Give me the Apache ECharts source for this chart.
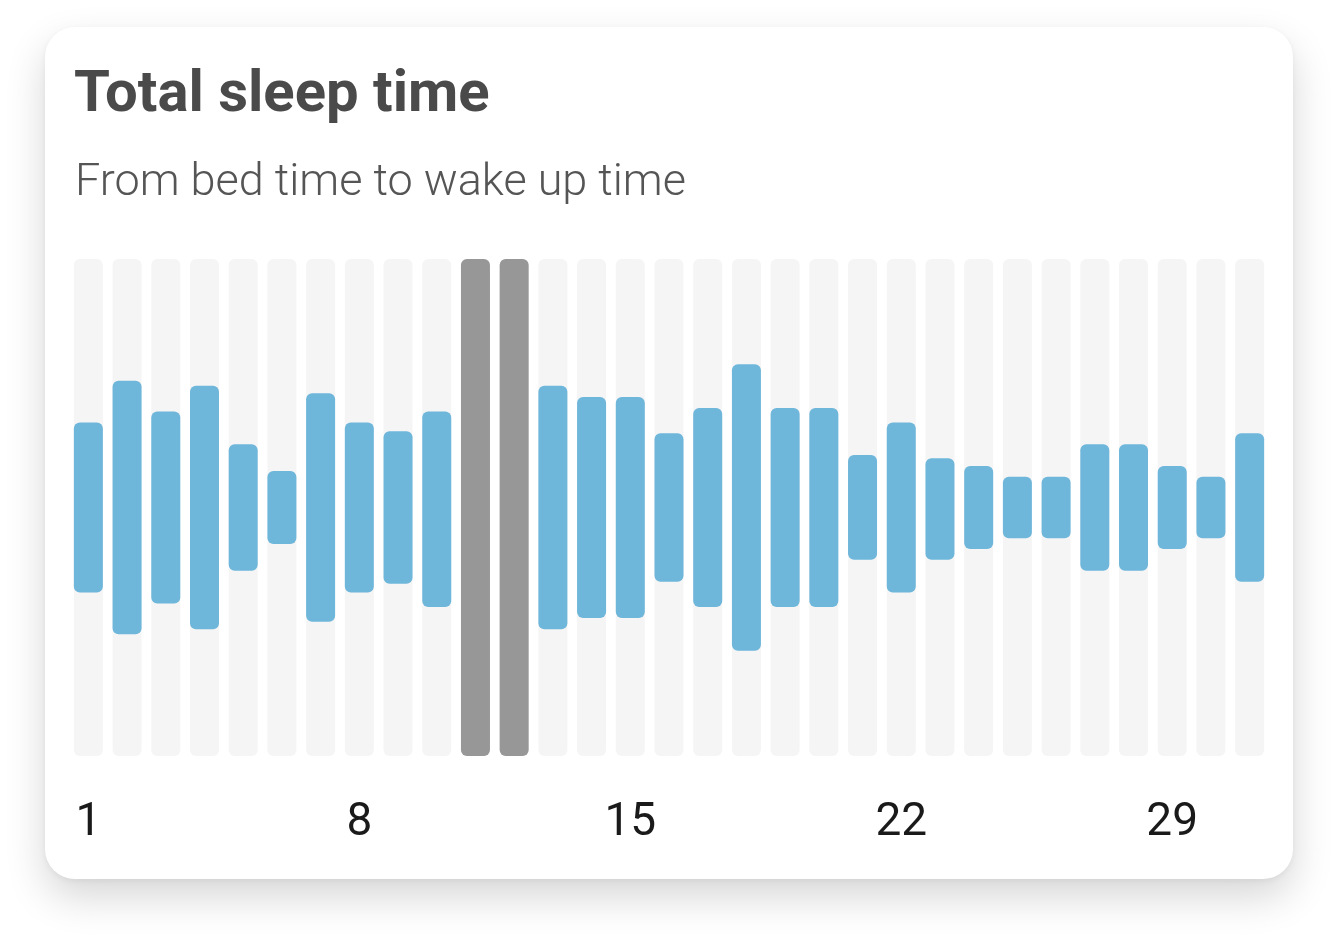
<!DOCTYPE html>
<html>
<head>
<meta charset="UTF-8">
<title>Total sleep time</title>
<script src="https://cdn.jsdelivr.net/npm/echarts@6/dist/echarts.min.js"></script>
<style>
  html, body { margin: 0; padding: 0; background: #fff; }
  body { width: 1336px; height: 941px; position: relative; overflow: hidden; }
  /* card behind the chart */
  .card {
    position: absolute; left: 45px; top: 27px; width: 1248px; height: 852px;
    background: #fff; border-radius: 30px;
    box-shadow: 0 18px 40px rgba(0, 0, 0, 0.16), 0 2px 6px rgba(0, 0, 0, 0.05);
  }
  #main { position: absolute; left: 0; top: 0; width: 1336px; height: 941px; }
</style>
</head>
<body>
<div class="card"></div>
<div id="main"></div>
<script>
// days of the month
var days = ['1','2','3','4','5','6','7','8','9','10','11','12','13','14','15','16',
            '17','18','19','20','21','22','23','24','25','26','27','28','29','30','31'];
// bed time / wake up time (hours on a 0-12 scale), null = no record
var bedTime  = [3.95, 2.94, 3.68, 3.06, 4.47, 5.12, 3.24, 3.95, 4.16, 3.60, null, null,
                3.06, 3.33, 3.33, 4.21, 3.60, 2.54, 3.60, 3.60, 4.74, 3.95, 4.74, 5.00,
                5.26, 5.26, 4.47, 4.47, 5.00, 5.26, 4.21];
var wakeTime = [8.05, 9.06, 8.32, 8.94, 7.53, 6.88, 8.76, 8.05, 7.84, 8.32, null, null,
                8.94, 8.67, 8.67, 7.79, 8.40, 9.46, 8.40, 8.40, 7.27, 8.05, 7.19, 7.00,
                6.74, 6.74, 7.53, 7.53, 7.00, 6.74, 7.79];
// days shown as grey full bars
var missingDays = ['11', '12'];
var yMax = 12;

var duration = bedTime.map(function (b, i) {
    return b == null ? null : +(wakeTime[i] - b).toFixed(2);
});
var missing = days.map(function (d) {
    return missingDays.indexOf(d) >= 0 ? yMax : null;
});

var option = {
    animation: false,
    title: [
        {
            text: 'Total sleep time',
            left: 69, top: 62,
            textStyle: { fontFamily: 'Roboto', fontSize: 58, fontWeight: 'bold', color: '#4a4a4a' }
        },
        {
            text: 'From bed time to wake up time',
            left: 70, top: 156,
            textStyle: { fontFamily: 'Roboto', fontSize: 45, fontWeight: 300, color: '#555555' }
        }
    ],
    grid: { left: 69, right: 67, top: 259, bottom: 185 },
    xAxis: {
        type: 'category',
        data: days,
        axisLine: { show: false },
        axisTick: { show: false },
        axisLabel: {
            interval: 6,
            margin: 44,
            fontFamily: 'Roboto',
            fontSize: 46,
            color: '#1a1a1a'
        }
    },
    yAxis: {
        type: 'value',
        min: 0,
        max: yMax,
        show: false,
        splitLine: { show: false }
    },
    series: [
        {
            name: 'bed',
            type: 'bar',
            stack: 'sleep',
            barWidth: 29,
            barGap: '-100%',
            data: bedTime,
            itemStyle: { color: 'transparent' },
            showBackground: true,
            backgroundStyle: { color: '#f5f5f5', borderRadius: 6 }
        },
        {
            name: 'asleep',
            type: 'bar',
            stack: 'sleep',
            barWidth: 29,
            barGap: '-100%',
            data: duration,
            itemStyle: { color: '#6eb6da', borderRadius: 6 }
        },
        {
            name: 'missing',
            type: 'bar',
            barWidth: 29,
            barGap: '-100%',
            data: missing,
            itemStyle: { color: '#979797', borderRadius: 6 }
        }
    ]
};

var myChart = echarts.init(document.getElementById('main'), null, { renderer: 'canvas' });
myChart.setOption(option);
</script>
</body>
</html>
